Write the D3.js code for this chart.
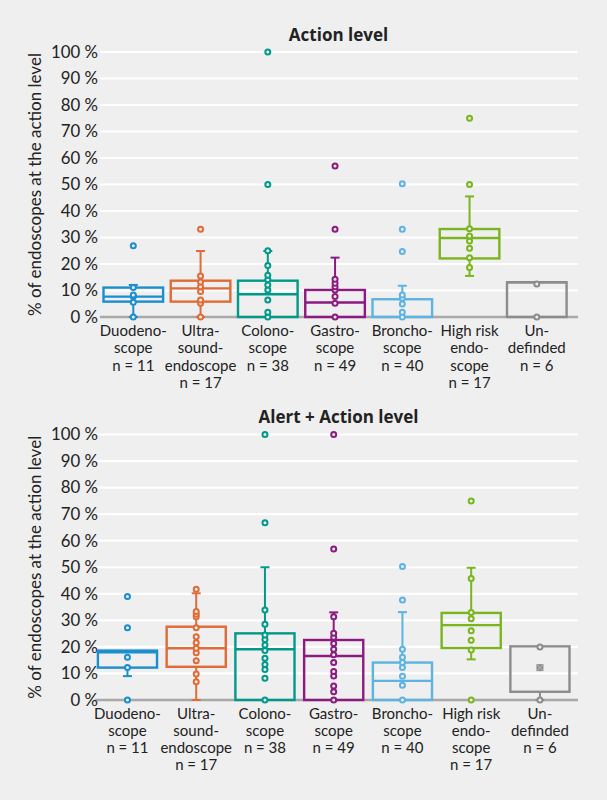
<!DOCTYPE html>
<html>
<head>
<meta charset="utf-8">
<script src="https://cdn.jsdelivr.net/npm/d3@7"></script>
<style>
  body { margin: 0; background: #efefef; }
  svg text { font-family: Lato, "Open Sans", sans-serif; fill: #222; }
</style>
</head>
<body>
<div id="body"></div>
<script>
// categories (label lines)
var categories = ["Duodeno", "Ultra", "Colono", "Gastro", "Broncho", "HighRisk", "Undefined"];
var catLabels = [
  ["Duodeno-", "scope", "n = 11"],
  ["Ultra-", "sound-", "endoscope", "n = 17"],
  ["Colono-", "scope", "n = 38"],
  ["Gastro-", "scope", "n = 49"],
  ["Broncho-", "scope", "n = 40"],
  ["High risk", "endo-", "scope", "n = 17"],
  ["Un-", "definded", "n = 6"]
];
var catColors = ["#1b8ecf", "#e06b36", "#00998a", "#8c1a80", "#5cb4e0", "#7ab51e", "#8c8c8c"];
var yTicks = [0, 10, 20, 30, 40, 50, 60, 70, 80, 90, 100];

// Action level
var actionQ1 = [5.8, 5.8, 0, 0, 0, 22.1, 0];
var actionMedian = [7.7, 10.8, 8.6, 5.5, null, 29.8, 13.1];
var actionQ3 = [11.1, 13.7, 13.7, 10.2, 6.7, 33.2, 13.1];
var actionLow = [0, 0, 0, 0, 0, 15.5, 0];
var actionHigh = [12.1, 24.9, 24.9, 22.4, 11.8, 45.5, 13.1];
var actionMean = [null, null, null, null, null, null, null];
var actionPoints = [
  [0, 5.6, 7.7, 8.3, 11.1],
  [0, 5.2, 6.4, 9.6, 11.4, 13.2, 15.5],
  [0, 1.8, 6.4, 10.2, 12.1, 14.1, 15.8, 19.4, 25],
  [0, 5.2, 7.7, 10.2, 11.4, 12.7, 14.2],
  [0, 1.8, 4.9, 7.1, 8.3],
  [18.7, 22.4, 25.9, 28.7, 30.6, 33.3],
  [0, 12.5]
];
var actionOutliers = [[26.9], [33.1], [50, 100], [33.1, 57], [24.7, 33.1, 50.3], [50, 75], []];

// Alert + Action level
var alertQ1 = [12.2, 12.5, 0, 0, 0, 19.6, 3.1];
var alertMedian = [18.0, 19.5, 19.1, 16.6, 7.2, 28.2, null];
var alertQ3 = [18.6, 27.6, 25.1, 22.6, 14.1, 32.8, 20.2];
var alertLow = [9.0, 0, 0, 0, 0, 15.3, 0];
var alertHigh = [18.6, 40.2, 50, 33.0, 33.1, 49.8, 20.2];
var alertMean = [null, null, null, null, null, null, 12.2];
var alertPoints = [
  [12.2, 16.1],
  [6.9, 9.8, 14.8, 17.8, 19.5, 21.6, 23.8, 27.2, 31.4, 32.3, 33.3],
  [0, 8.2, 11.5, 13.4, 15.7, 18.6, 20.7, 22.8, 24.5, 28.5, 33.9],
  [0, 3.1, 5.3, 9.0, 10.7, 14.1, 17.0, 19.1, 21.3, 23.6, 25.1, 31.4],
  [0, 5.6, 8.9, 12.2, 14.1, 16.1, 19.1],
  [18.8, 22.5, 26.1, 30.6, 33, 45.8],
  [0, 20]
];
var alertOutliers = [[0, 27.2, 39], [41.7], [66.8, 100], [56.9, 100], [37.7, 50.3], [0, 75], []];

const width = 607, height = 800;
const svg = d3.select("#body").append("svg").attr("width", width).attr("height", height);
svg.append("rect").attr("width", width).attr("height", height).attr("fill", "#efefef");

function drawChart(o) {
  const g = svg.append("g");
  const x = d3.scaleBand().domain(categories).range(o.xRange).paddingInner(o.pad).paddingOuter(0);
  const y = d3.scaleLinear().domain([0, 100]).range([o.bottom, o.top]);
  const bw = x.bandwidth();
  const cap = 9;

  // grid
  g.selectAll(".grid").data(yTicks.slice(1)).enter().append("line")
    .attr("x1", o.gridX).attr("x2", 578)
    .attr("y1", d => y(d)).attr("y2", d => y(d))
    .attr("stroke", "#fff").attr("stroke-width", 2.2);
  g.append("line").attr("x1", o.gridX).attr("x2", 578)
    .attr("y1", y(0)).attr("y2", y(0))
    .attr("stroke", "#a9a9a9").attr("stroke-width", 2.5);

  // y axis
  const yAxis = d3.axisLeft(y).tickValues(yTicks).tickFormat(d => d + " %").tickSize(0).tickPadding(0);
  const ya = g.append("g").attr("transform", "translate(98,0)").call(yAxis);
  ya.select(".domain").remove();
  ya.selectAll("text").attr("font-size", 16.8).style("font-family", "Lato, sans-serif").attr("fill", "#2a2a2a");

  g.append("text").attr("transform", "translate(41," + ((o.top + o.bottom) / 2) + ") rotate(-90)")
    .attr("text-anchor", "middle").attr("font-size", 17)
    .text("% of endoscopes at the action level");

  g.append("text").attr("x", 338.5).attr("y", o.top - 11.5).attr("text-anchor", "middle")
    .attr("font-size", 17).attr("font-weight", "bold").style("font-family", "'Open Sans', sans-serif")
    .text(o.title);

  categories.forEach(function(c, i) {
    const cx = x(c) + bw / 2;
    const col = catColors[i];
    const cg = g.append("g");
    // whiskers
    if (o.high[i] > o.q3[i]) {
      cg.append("line").attr("x1", cx).attr("x2", cx).attr("y1", y(o.q3[i])).attr("y2", y(o.high[i]))
        .attr("stroke", col).attr("stroke-width", 2);
      cg.append("line").attr("x1", cx - cap / 2).attr("x2", cx + cap / 2).attr("y1", y(o.high[i])).attr("y2", y(o.high[i]))
        .attr("stroke", col).attr("stroke-width", 2);
    }
    if (o.low[i] < o.q1[i]) {
      cg.append("line").attr("x1", cx).attr("x2", cx).attr("y1", y(o.q1[i])).attr("y2", y(o.low[i]))
        .attr("stroke", col).attr("stroke-width", 2);
      cg.append("line").attr("x1", cx - cap / 2).attr("x2", cx + cap / 2).attr("y1", y(o.low[i])).attr("y2", y(o.low[i]))
        .attr("stroke", col).attr("stroke-width", 2);
    }
    // box
    cg.append("rect").attr("x", x(c) + 1.2).attr("width", bw - 2.4)
      .attr("y", y(o.q3[i])).attr("height", Math.max(0, y(o.q1[i]) - y(o.q3[i])))
      .attr("fill", "none").attr("stroke", col).attr("stroke-width", 2.4);
    if (o.median[i] != null) {
      cg.append("line").attr("x1", x(c) + 1.2).attr("x2", x(c) + bw - 1.2)
        .attr("y1", y(o.median[i])).attr("y2", y(o.median[i]))
        .attr("stroke", col).attr("stroke-width", 2.4);
    }
    // points
    cg.selectAll(".pt").data(o.points[i].concat(o.outliers[i])).enter().append("circle")
      .attr("cx", cx).attr("cy", d => y(d)).attr("r", 2.5)
      .attr("fill", "#efefef").attr("stroke", col).attr("stroke-width", 2);
    // mean marker
    if (o.mean[i] != null) {
      const my = y(o.mean[i]);
      cg.append("rect").attr("x", cx - 3.5).attr("y", my - 3.5).attr("width", 7).attr("height", 7)
        .attr("fill", col);
      cg.append("path").attr("d", "M" + (cx - 3.5) + "," + (my - 3.5) + "L" + (cx + 3.5) + "," + (my + 3.5) +
        "M" + (cx + 3.5) + "," + (my - 3.5) + "L" + (cx - 3.5) + "," + (my + 3.5))
        .attr("stroke", "#bbb").attr("stroke-width", 1);
    }
    // category label
    const t = g.append("text").attr("text-anchor", "middle").attr("font-size", 15);
    catLabels[i].forEach(function(line, k) {
      t.append("tspan").attr("x", cx).attr("y", o.labelY + k * 17.3).text(line);
    });
  });
}

drawChart({ title: "Action level", top: 52, bottom: 317, labelY: 336,
  xRange: [102.3, 567.8], pad: 0.078, gridX: 100,
  q1: actionQ1, median: actionMedian, q3: actionQ3, low: actionLow, high: actionHigh,
  mean: actionMean, points: actionPoints, outliers: actionOutliers });

drawChart({ title: "Alert + Action level", top: 434.5, bottom: 700, labelY: 718.5,
  xRange: [96.7, 570.7], pad: 0.105, gridX: 95,
  q1: alertQ1, median: alertMedian, q3: alertQ3, low: alertLow, high: alertHigh,
  mean: alertMean, points: alertPoints, outliers: alertOutliers });
</script>
</body>
</html>
